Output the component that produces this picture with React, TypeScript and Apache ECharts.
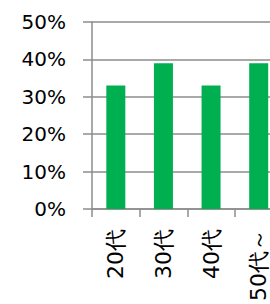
import React, { useEffect, useRef } from "react";
import * as echarts from "echarts";

const categories = ["20代", "30代", "40代", "50代～"];
const values = [33, 39, 33, 39];
const yTicks = { min: 0, max: 50, interval: 10 };

export default function App() {
  const ref = useRef<HTMLDivElement>(null);
  useEffect(() => {
    if (!ref.current) return;
    const chart = echarts.init(ref.current, null, { renderer: "svg" });
    chart.setOption({
      animation: false,
      grid: { left: 92, top: 22, width: 190.5, height: 188, containLabel: false },
      xAxis: {
        type: "category",
        data: categories,
        boundaryGap: true,
        axisLine: { show: true, lineStyle: { color: "#8c8c8c", width: 1.5 } },
        axisTick: { show: true, length: 8, alignWithLabel: false, lineStyle: { color: "#8c8c8c", width: 1.5 } },
        axisLabel: {
          rotate: 90,
          interval: 0,
          margin: 20,
          fontSize: 22,
          color: "#000",
          fontFamily: "DejaVu Sans",
        },
      },
      yAxis: {
        type: "value",
        min: yTicks.min,
        max: yTicks.max,
        interval: yTicks.interval,
        axisLine: { show: true, lineStyle: { color: "#8c8c8c", width: 1.5 } },
        axisTick: { show: true, length: 9, lineStyle: { color: "#8c8c8c", width: 1.5 } },
        splitLine: { show: true, lineStyle: { color: "#8c8c8c", width: 1.5 } },
        axisLabel: {
          formatter: "{value}%",
          margin: 26,
          fontSize: 20,
          color: "#000",
          fontFamily: "DejaVu Sans",
        },
      },
      series: [
        {
          type: "bar",
          data: values,
          barWidth: 19,
          itemStyle: { color: "#00B050" },
        },
      ],
    });
    return () => chart.dispose();
  }, []);
  return (
    <div style={{ position: "absolute", left: 0, top: 0, width: 270, height: 304, overflow: "hidden", background: "#fff" }}>
      <div ref={ref} style={{ width: 300, height: 304 }} />
    </div>
  );
}
